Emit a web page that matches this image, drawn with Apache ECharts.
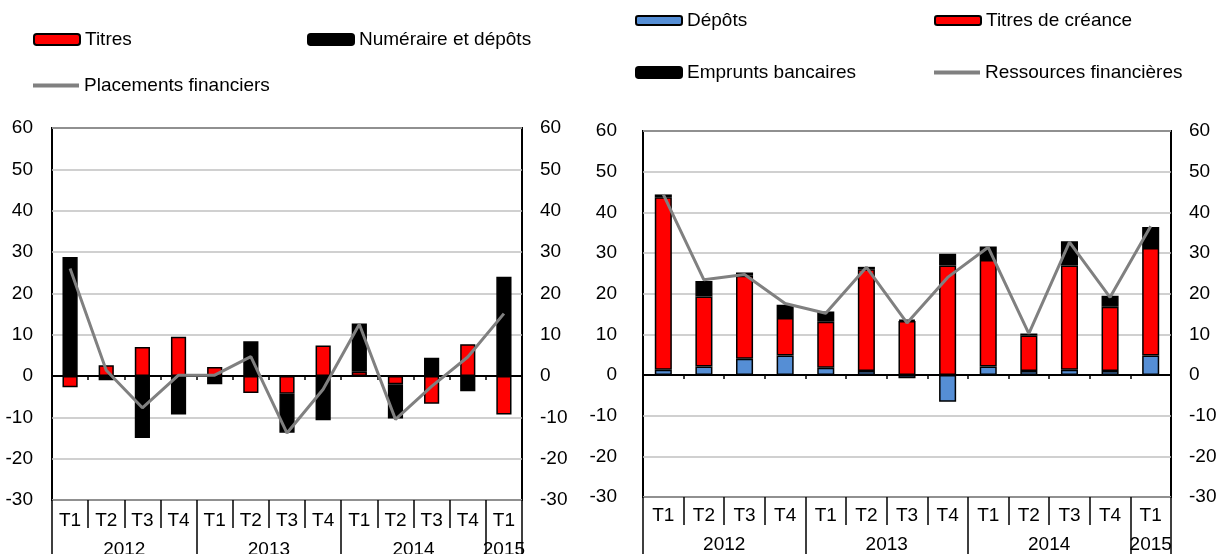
<!DOCTYPE html>
<html>
<head>
<meta charset="utf-8">
<script src="https://cdn.jsdelivr.net/npm/echarts@6/dist/echarts.min.js"></script>
<style>
html, body { margin: 0; padding: 0; background: #fff; }
#main { width: 1218px; height: 554px; }
</style>
</head>
<body>
<div id="main"></div>
<script>
var quarters = ['T1', 'T2', 'T3', 'T4', 'T1', 'T2', 'T3', 'T4', 'T1', 'T2', 'T3', 'T4', 'T1'];
var years = ['2012', '2013', '2014', '2015'];
var yearSpans = [4, 4, 4, 1];

// graphique de gauche
var titres = [-2.7, 2.6, 7.0, 9.5, 2.2, -4.1, -4.3, 7.4, 1.0, -2.0, -6.7, 7.7, -9.3];
var numeraire = [28.8, -1.0, -15.0, -9.3, -2.0, 8.4, -9.4, -10.7, 11.7, -8.3, 4.4, -3.7, 24.0];
var placements = [26.0, 1.4, -7.7, 0.2, 0.2, 4.7, -13.8, -3.2, 12.5, -10.5, -2.5, 4.6, 15.1];

// graphique de droite
var depots = [1.3, 2.1, 4.0, 4.8, 1.8, 1.0, -0.8, -6.6, 2.1, 1.0, 1.3, 1.0, 4.8];
var titresCreance = [42.4, 17.2, 20.4, 9.2, 11.3, 25.0, 13.3, 26.9, 26.2, 8.7, 25.6, 15.8, 26.4];
var emprunts = [0.7, 3.8, 0.8, 3.3, 2.5, 0.6, 0.3, 2.9, 3.3, 0.5, 6.0, 2.7, 5.2];
var ressources = [44.4, 23.4, 24.7, 17.6, 15.2, 26.5, 12.8, 24.0, 31.4, 10.2, 32.7, 19.1, 36.6];

var font = "'Liberation Sans', Arial, sans-serif";
var fs = 19;

// axe des années : demi-pas, libellé au milieu de chaque année
var yearLabelAt = {};
var yearBounds = {0: true};
var acc = 0;
for (var i = 0; i < years.length; i++) {
  yearLabelAt[2 * acc + yearSpans[i]] = years[i];
  acc += yearSpans[i];
  yearBounds[2 * acc] = true;
}
var yearSlots = [];
for (var k = 0; k <= 2 * quarters.length; k++) yearSlots.push(String(k));

function axesFor(g, qMargin, yMargin) {
  return [
    {
      type: 'category', gridIndex: g, data: quarters, position: 'bottom',
      axisLine: { onZero: false, show: false },
      axisTick: { show: true, interval: 0, length: 28, lineStyle: { color: '#000', width: 1.5 } },
      axisLabel: { interval: 0, margin: qMargin, fontSize: fs, color: '#000', fontFamily: font },
      splitLine: { show: false }
    },
    {
      type: 'category', gridIndex: g, data: yearSlots, position: 'bottom', boundaryGap: false,
      axisLine: { onZero: false, show: false },
      axisTick: {
        show: true, length: 60, lineStyle: { color: '#000', width: 1.5 },
        interval: function (idx) { return !!yearBounds[idx]; }
      },
      axisLabel: {
        margin: yMargin, fontSize: fs, color: '#000', fontFamily: font,
        interval: function (idx) { return yearLabelAt[idx] !== undefined; },
        formatter: function (v) { return yearLabelAt[+v] || ''; }
      },
      splitLine: { show: false }
    },
    {
      type: 'category', gridIndex: g, data: quarters, position: 'bottom',
      axisLine: { onZero: true, lineStyle: { color: '#000', width: 2 } },
      axisTick: { show: true, interval: 0, length: 4, lineStyle: { color: '#000', width: 1.5 } },
      axisLabel: { show: false },
      splitLine: { show: false }
    }
  ];
}

function yAxesFor(g, leftMargin) {
  return [
    {
      type: 'value', gridIndex: g, position: 'left', min: -30, max: 60, interval: 10,
      axisLine: { show: false }, axisTick: { show: false },
      axisLabel: { margin: leftMargin, fontSize: fs, color: '#000', fontFamily: font },
      splitLine: { lineStyle: { color: '#c0c0c0', width: 1.5 } }
    },
    {
      type: 'value', gridIndex: g, position: 'right', min: -30, max: 60, interval: 10,
      axisLine: { show: false }, axisTick: { show: false },
      axisLabel: { margin: 18, fontSize: fs, color: '#000', fontFamily: font },
      splitLine: { show: false }
    }
  ];
}

function leg(name, left, top, h, icon) {
  return {
    data: [icon ? { name: name, icon: icon } : name], left: left, top: top, padding: 0,
    itemWidth: 46, itemHeight: h, selectedMode: false,
    textStyle: { fontSize: fs, color: '#000', fontFamily: font }
  };
}

var barBorder = { borderColor: '#000', borderWidth: 1.5 };

var chart = echarts.init(document.getElementById('main'));
var option = {
  animation: false,
  backgroundColor: '#fff',
  grid: [
    { left: 52, right: 696, top: 128, bottom: 54, show: true, borderColor: '#000', borderWidth: 2, containLabel: false, outerBoundsMode: 'none' },
    { left: 643, right: 47, top: 131, bottom: 57, show: true, borderColor: '#000', borderWidth: 2, containLabel: false, outerBoundsMode: 'none' }
  ],
  legend: [
    leg('Titres', 33, 30, 11),
    leg('Numéraire et dépôts', 307, 30, 11),
    leg('Placements financiers', 33, 76, 4, 'rect'),
    leg('Dépôts', 635, 11, 9),
    leg('Titres de créance', 934, 11, 9),
    leg('Emprunts bancaires', 635, 63, 11),
    leg('Ressources financières', 934, 63, 4, 'rect')
  ],
  xAxis: axesFor(0, 11, 40).concat(axesFor(1, 9, 38)),
  yAxis: yAxesFor(0, 19).concat(yAxesFor(1, 26)),
  series: [
    {
      name: 'Titres', type: 'bar', stack: 'gauche', xAxisIndex: 0, yAxisIndex: 0,
      barWidth: '42%', data: titres,
      itemStyle: Object.assign({ color: '#ff0000' }, barBorder)
    },
    {
      name: 'Numéraire et dépôts', type: 'bar', stack: 'gauche', xAxisIndex: 0, yAxisIndex: 0,
      barWidth: '42%', data: numeraire,
      itemStyle: Object.assign({ color: '#000000' }, barBorder)
    },
    {
      name: 'Placements financiers', type: 'line', xAxisIndex: 0, yAxisIndex: 0,
      data: placements, symbol: 'none', z: 5,
      lineStyle: { color: '#808080', width: 3 }, itemStyle: { color: '#808080' }
    },
    {
      name: 'Dépôts', type: 'bar', stack: 'droite', xAxisIndex: 3, yAxisIndex: 2,
      barWidth: '42%', data: depots,
      itemStyle: Object.assign({ color: '#558ed5' }, barBorder)
    },
    {
      name: 'Titres de créance', type: 'bar', stack: 'droite', xAxisIndex: 3, yAxisIndex: 2,
      barWidth: '42%', data: titresCreance,
      itemStyle: Object.assign({ color: '#ff0000' }, barBorder)
    },
    {
      name: 'Emprunts bancaires', type: 'bar', stack: 'droite', xAxisIndex: 3, yAxisIndex: 2,
      barWidth: '42%', data: emprunts,
      itemStyle: Object.assign({ color: '#000000' }, barBorder)
    },
    {
      name: 'Ressources financières', type: 'line', xAxisIndex: 3, yAxisIndex: 2,
      data: ressources, symbol: 'none', z: 5,
      lineStyle: { color: '#808080', width: 3 }, itemStyle: { color: '#808080' }
    }
  ]
};

option && chart.setOption(option);
</script>
</body>
</html>
